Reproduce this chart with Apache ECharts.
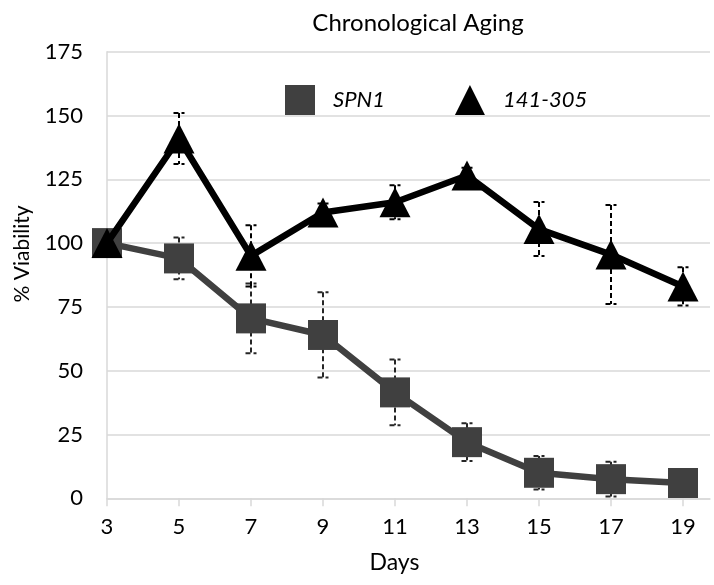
<!DOCTYPE html>
<html>
<head>
<meta charset="utf-8">
<script src="https://cdn.jsdelivr.net/npm/echarts@6/dist/echarts.min.js"></script>
<style>
  html, body { margin: 0; padding: 0; background: #fff; }
  #agingChart { width: 714px; height: 585px; }
</style>
</head>
<body>
<div id="agingChart"></div>
<script>
// values
const days = [3, 5, 7, 9, 11, 13, 15, 17, 19];
const spn1 = [100, 94, 70.5, 64, 41.5, 22, 10, 7.5, 6];
const spn1Err = [0, 8.2, 13.7, 16.7, 12.9, 7.4, 6.6, 6.8, 1];
const mut = [100, 141, 95, 112, 116, 126.5, 105.5, 95.5, 83];
const mutErr = [0, 10, 12, 3.5, 6.7, 3, 10.6, 19.4, 7.5];
const yTicks = [0, 25, 50, 75, 100, 125, 150, 175];

const FONT = "Lato";

function pairs(vals, errs) {
  return days.map((d, i) => (errs ? [d, vals[i], errs[i]] : [d, vals[i]]));
}

function errorBars(color) {
  return function (params, api) {
    const x = api.value(0), y = api.value(1), e = api.value(2);
    if (!e) return;
    const top = api.coord([x, y + e]);
    const bot = api.coord([x, y - e]);
    const half = 5.5;
    const style = { stroke: color, lineWidth: 2, lineDash: [5, 3] };
    return {
      type: "group",
      children: [
        { type: "line", shape: { x1: top[0], y1: top[1], x2: bot[0], y2: bot[1] }, style: style },
        { type: "line", shape: { x1: top[0] - half, y1: top[1], x2: top[0] + half, y2: top[1] }, style: style },
        { type: "line", shape: { x1: bot[0] - half, y1: bot[1], x2: bot[0] + half, y2: bot[1] }, style: style },
      ],
    };
  };
}

var myChart = echarts.init(document.getElementById("agingChart"));
var option = {
  animation: false,
  title: {
    text: "Chronological Aging",
    left: 413,
    textAlign: "center",
    top: 6,
    textStyle: { fontFamily: FONT, fontSize: 24, fontWeight: "normal", color: "#000" },
  },
  legend: {
    left: 280,
    top: 80,
    itemWidth: 30,
    itemHeight: 30,
    itemGap: 70,
    data: [
      { name: "SPN1", icon: "rect" },
      { name: "141-305", icon: "triangle" },
    ],
    textStyle: { fontFamily: FONT, fontSize: 22, fontStyle: "italic", color: "#000", padding: [0, 0, 0, 13] },
  },
  grid: { left: 107, right: 4, top: 51.7, bottom: 86.7 },
  xAxis: {
    type: "value",
    min: 3,
    max: 19.75,
    name: "Days",
    nameLocation: "middle",
    nameGap: 53,
    nameTextStyle: { fontFamily: FONT, fontSize: 23, color: "#000", padding: [0, 28, 0, 0] },
    axisLine: { lineStyle: { color: "#d9d9d9", width: 1.5 } },
    axisTick: { show: true, length: 8, customValues: days, lineStyle: { color: "#d9d9d9", width: 1.5 } },
    axisLabel: { customValues: days, margin: 18, fontFamily: FONT, fontSize: 22, color: "#000" },
    splitLine: { show: false },
  },
  yAxis: {
    type: "value",
    min: 0,
    max: 175,
    interval: 25,
    name: "% Viability",
    nameLocation: "middle",
    nameGap: 74,
    nameTextStyle: { fontFamily: FONT, fontSize: 21, color: "#000", padding: [0, 0, 0, 42] },
    axisLine: { show: true, lineStyle: { color: "#d9d9d9", width: 1.5 } },
    axisTick: { show: false },
    axisLabel: { margin: 24, fontFamily: FONT, fontSize: 22, color: "#000" },
    splitLine: { lineStyle: { color: "#d9d9d9", width: 1.5 } },
  },
  series: [
    {
      name: "SPN1 err",
      type: "custom",
      renderItem: errorBars("#262626"),
      data: pairs(spn1, spn1Err),
      z: 1,
      silent: true,
    },
    {
      name: "141-305 err",
      type: "custom",
      renderItem: errorBars("#000"),
      data: pairs(mut, mutErr),
      z: 1,
      silent: true,
    },
    {
      name: "SPN1",
      type: "line",
      data: pairs(spn1),
      symbol: "rect",
      symbolSize: 30,
      color: "#404040",
      lineStyle: { color: "#404040", width: 6.5 },
      itemStyle: { color: "#404040" },
      z: 3,
    },
    {
      name: "141-305",
      type: "line",
      data: pairs(mut),
      symbol: "triangle",
      symbolSize: [31, 30],
      color: "#000",
      lineStyle: { color: "#000", width: 6.5 },
      itemStyle: { color: "#000" },
      z: 4,
    },
  ],
};
myChart.setOption(option);
</script>
</body>
</html>
